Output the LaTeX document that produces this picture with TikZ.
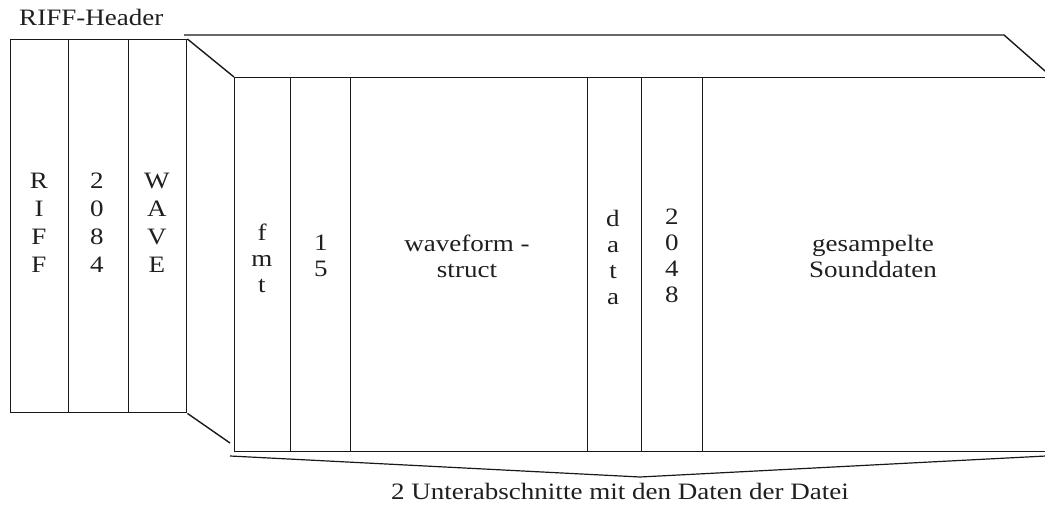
\documentclass[tikz,border=0pt]{standalone}
\usepackage{fontspec}
\setmainfont{Liberation Serif}
\begin{document}
\begin{tikzpicture}[x=1pt,y=-1pt,
  frame/.style={draw=black!90, line width=1.4pt},
  col/.style={frame, inner sep=0pt, anchor=north west},
  lbl/.style={font=\fontsize{23.5}{26}\selectfont, align=center, xscale=1.15, text=black!88, inner sep=0pt},
  hlbl/.style={lbl, font=\fontsize{23.5}{28}\selectfont},
]
\useasboundingbox (0,0) rectangle (1045,508);
\clip (0,0) rectangle (1045,508);

% RIFF header: three columns
\node[col, minimum width=58pt, minimum height=373pt] (riff) at (10,39) {};
\node[col, minimum width=60pt, minimum height=373pt] (len)  at (68,39) {};
\node[col, minimum width=58pt, minimum height=373pt] (wave) at (128,39) {};

% sub-chunks: fmt and data
\node[col, minimum width=56pt,  minimum height=374pt] (fmt)  at (234,77) {};
\node[col, minimum width=60pt,  minimum height=374pt] (flen) at (290,77) {};
\node[col, minimum width=237pt, minimum height=374pt] (wfs)  at (350,77) {};
\node[col, minimum width=54pt,  minimum height=374pt] (data) at (587,77) {};
\node[col, minimum width=61pt,  minimum height=374pt] (dlen) at (641,77) {};
\node[col, minimum width=360pt, minimum height=374pt] (snd)  at (702,77) {};

% outer frame in perspective
\coordinate (ftl) at (184,35);
\coordinate (ftr) at (1004,35);
\coordinate (fre) at (1053,78);
\coordinate (bdg) at (230,443);
\draw[frame] (ftl) -- (ftr) -- (fre);
\draw[frame] (wave.north east) -- (fmt.north west);
\draw[frame] (wave.south east) -- (bdg);

% brace under the sub-chunks
\coordinate (bl) at (230,456);
\coordinate (bm) at (640,477);
\coordinate (br) at (1046,456);
\draw[frame, line width=1.2pt] (bl) -- (bm) -- (br);

% labels
\node[lbl, anchor=base west] (title) at (19,26) {RIFF-Header};
\node[hlbl] (triff) at (39,223) {R\\I\\F\\F};
\node[hlbl] (tlen)  at (97,223) {2\\0\\8\\4};
\node[hlbl] (twave) at (157,223) {W\\A\\V\\E};
\node[lbl] (tfmt)  at (262,258) {f\\m\\t};
\node[lbl] (tflen) at (321,256) {1\\5};
\node[lbl] (twfs)  at (467,256) {waveform -\\struct};
\node[lbl] (tdata) at (613,257) {d\\a\\t\\a};
\node[lbl] (tdlen) at (672,256) {2\\0\\4\\8};
\node[lbl] (tsnd)  at (873,256) {gesampelte\\Sounddaten};
\node[lbl] (tsub)  at (620,491) {2 Unterabschnitte mit den Daten der Datei};
\end{tikzpicture}
\end{document}
